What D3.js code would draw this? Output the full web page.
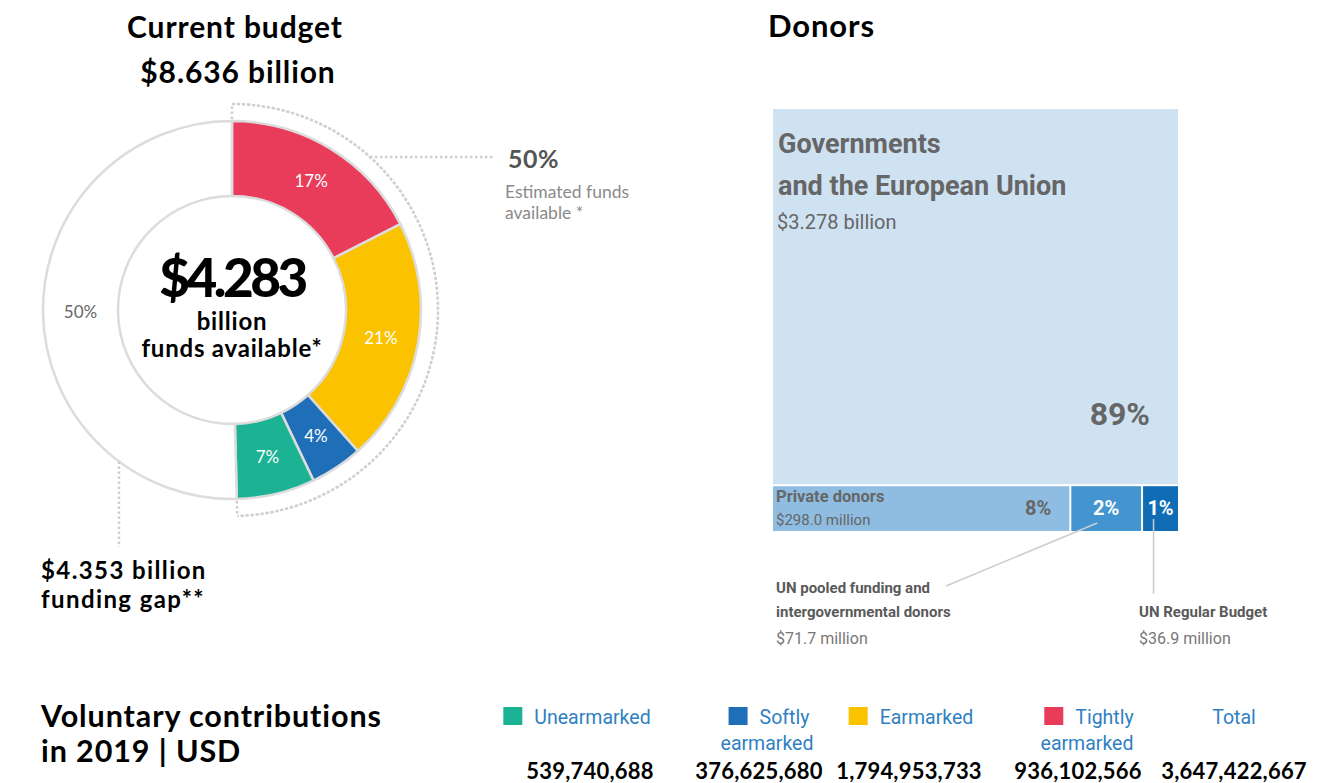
<!DOCTYPE html>
<html>
<head>
<meta charset="utf-8">
<script src="https://cdn.jsdelivr.net/npm/d3@7"></script>
<style>
  body { margin: 0; background: #fff; }
  svg { display: block; }
</style>
</head>
<body>
<script>
// Budget donut, donors treemap and voluntary contributions table

const width = 1335;
const height = 783;

// Current budget (billion USD), clockwise from the top
const budgetKeys = ["Tightly earmarked", "Earmarked", "Softly earmarked", "Unearmarked", "Funding gap"];
const budgetValues = [1.511, 1.805, 0.389, 0.578, 4.353];
const budgetPct = ["17%", "21%", "4%", "7%", "50%"];
const budgetColors = ["#e83c5a", "#fbc200", "#1f6fb8", "#1bb394", "#ffffff"];

// Donors (million USD)
const donorNames = ["Governments and the European Union", "Private donors", "UN pooled funding and intergovernmental donors", "UN Regular Budget"];
const donorValues = [3278, 298.0, 71.7, 36.9];
const donorPct = ["89%", "8%", "2%", "1%"];
const donorAmounts = ["$3.278 billion", "$298.0 million", "$71.7 million", "$36.9 million"];
const donorColors = ["#cfe2f2", "#8fbde2", "#4494d0", "#116cb6"];

// Voluntary contributions in 2019 (USD)
const contribCats = ["Unearmarked", "Softly earmarked", "Earmarked", "Tightly earmarked", "Total"];
const contribValues = [539740688, 376625680, 1794953733, 936102566, 3647422667];
const contribColors = ["#1bb394", "#1f6fb8", "#fbc200", "#e83c5a", null];

const headFont = "Lato, 'Open Sans', sans-serif";
const donorFont = "Roboto, 'Liberation Sans', sans-serif";

const svg = d3.select("body")
    .append("svg")
    .attr("width", width)
    .attr("height", height);

const heading = (x, y, txt, size, anchor, spacing) => svg.append("text")
    .attr("x", x).attr("y", y)
    .attr("text-anchor", anchor || "start")
    .style("font", `bold ${size}px ${headFont}`)
    .style("letter-spacing", `${spacing || 0.9}px`)
    .text(txt);

// ---------- Current budget ----------
heading(235, 38, "Current budget", 30, "middle");
heading(238, 83, "$8.636 billion", 30, "middle");

const cx = 232, cy = 310;
const rOuter = 189, rInner = 114, rBracket = 206;

const donut = svg.append("g").attr("transform", `translate(${cx},${cy})`);

const pie = d3.pie().sort(null).value(d => d);
const arcs = pie(budgetValues);
const arc = d3.arc().innerRadius(rInner).outerRadius(rOuter);

donut.selectAll("path.seg")
    .data(arcs)
    .join("path")
    .attr("class", "seg")
    .attr("d", arc)
    .attr("fill", (d, i) => budgetColors[i])
    .attr("stroke", "#dcdcdc")
    .attr("stroke-width", 2.5);

donut.selectAll("text.pct")
    .data(arcs)
    .join("text")
    .attr("class", "pct")
    .attr("transform", d => `translate(${arc.centroid(d)})`)
    .attr("text-anchor", "middle")
    .attr("dy", "0.35em")
    .style("font", `17px ${headFont}`)
    .attr("fill", (d, i) => i === 4 ? "#666" : "#fff")
    .text((d, i) => budgetPct[i]);

// dotted bracket round the funds available
const available = arcs[3].endAngle;
const dotted = { stroke: "#cfcfcf", "stroke-width": 2.5, "stroke-dasharray": "2.5,2.5", fill: "none" };
const bracket = donut.append("path")
    .attr("d", d3.arc().innerRadius(rBracket).outerRadius(rBracket).startAngle(0).endAngle(available)());
const radial = (a, r0, r1) => `M${r0 * Math.sin(a)},${-r0 * Math.cos(a)}L${r1 * Math.sin(a)},${-r1 * Math.cos(a)}`;
const ticks = donut.append("path")
    .attr("d", radial(0, rOuter + 2, rBracket) + radial(available, rOuter + 2, rBracket));
const leaderY = 157 - cy;
const leaderX0 = Math.sqrt(rBracket * rBracket - leaderY * leaderY);
const leader = donut.append("path").attr("d", `M${leaderX0},${leaderY}H${495 - cx}`);
const gapX = 119 - cx;
const gapLine = donut.append("path")
    .attr("d", `M${gapX},${Math.sqrt(rOuter * rOuter - gapX * gapX)}V${547 - cy}`);
[bracket, ticks, leader, gapLine].forEach(p => Object.entries(dotted).forEach(([k, v]) => p.attr(k, v)));

// centre text
donut.append("text").attr("y", -13).attr("text-anchor", "middle")
    .style("font", `900 53px ${headFont}`).style("letter-spacing", "-3.5px")
    .text("$4.283");
donut.append("text").attr("y", 20).attr("text-anchor", "middle")
    .style("font", `bold 24px ${headFont}`).style("letter-spacing", "0.8px").text("billion");
donut.append("text").attr("y", 47).attr("text-anchor", "middle")
    .style("font", `bold 24px ${headFont}`).style("letter-spacing", "0.8px").text("funds available*");

svg.append("text").attr("x", 508).attr("y", 168)
    .style("font", `bold 25px ${headFont}`).style("letter-spacing", "0.5px")
    .attr("fill", "#555").text(budgetPct[4]);
svg.append("text").attr("x", 505).attr("y", 198)
    .style("font", `17.5px ${headFont}`).attr("fill", "#8a8a8a").text("Estimated funds");
svg.append("text").attr("x", 505).attr("y", 219)
    .style("font", `17.5px ${headFont}`).attr("fill", "#8a8a8a").text("available *");

heading(41, 579, "$4.353 billion", 24, "start", 1.4);
heading(41, 608, "funding gap**", 24, "start", 1.4);

// ---------- Donors ----------
heading(768, 37, "Donors", 31);

const root = d3.hierarchy({
    children: [
        { i: 0 },
        { children: [{ i: 1 }, { i: 2 }, { i: 3 }] }
    ]
}).sum(d => d.i !== undefined ? donorValues[d.i] : 0);

// stack the top level vertically, lay the small donors side by side
d3.treemap()
    .tile((node, x0, y0, x1, y1) =>
        (node.depth === 0 ? d3.treemapSlice : d3.treemapDice)(node, x0, y0, x1, y1))
    .size([405, 422])
    .paddingInner(2)(root);

const tm = svg.append("g").attr("transform", "translate(773,109)");
const leaves = root.leaves();

tm.selectAll("rect")
    .data(leaves)
    .join("rect")
    .attr("x", d => d.x0).attr("y", d => d.y0)
    .attr("width", d => d.x1 - d.x0).attr("height", d => d.y1 - d.y0)
    .attr("fill", d => donorColors[d.data.i]);

const gov = leaves[0];
tm.append("text").attr("x", gov.x0 + 5).attr("y", gov.y0 + 44)
    .style("font", `bold 27px ${donorFont}`).attr("fill", "#666").text("Governments");
tm.append("text").attr("x", gov.x0 + 5).attr("y", gov.y0 + 86)
    .style("font", `bold 27px ${donorFont}`).attr("fill", "#666").text("and the European Union");
tm.append("text").attr("x", gov.x0 + 4).attr("y", gov.y0 + 120)
    .style("font", `20px ${donorFont}`).attr("fill", "#666").text(donorAmounts[0]);
tm.append("text").attr("x", gov.x1 - 28).attr("y", gov.y1 - 59)
    .attr("text-anchor", "end")
    .style("font", `bold 32px ${donorFont}`).attr("fill", "#666").text(donorPct[0]);

const priv = leaves[1];
tm.append("text").attr("x", priv.x0 + 3).attr("y", priv.y1 - 29)
    .style("font", `bold 16.5px ${donorFont}`).attr("fill", "#666").text(donorNames[1]);
tm.append("text").attr("x", priv.x0 + 3).attr("y", priv.y1 - 6)
    .style("font", `15px ${donorFont}`).attr("fill", "#666").text(donorAmounts[1]);
tm.append("text").attr("x", priv.x1 - 18).attr("y", priv.y1 - 16)
    .attr("text-anchor", "end")
    .style("font", `bold 20px ${donorFont}`).attr("fill", "#666").text(donorPct[1]);

leaves.slice(2).forEach(d => {
    tm.append("text").attr("x", (d.x0 + d.x1) / 2).attr("y", d.y1 - 16)
        .attr("text-anchor", "middle")
        .style("font", `bold 20px ${donorFont}`).attr("fill", "#fff").text(donorPct[d.data.i]);
});

// callouts under the treemap
const pooled = leaves[2], unrb = leaves[3];
tm.append("line")
    .attr("x1", (pooled.x0 + pooled.x1) / 2 - 9).attr("y1", pooled.y1 - 8)
    .attr("x2", 946 - 773).attr("y2", 586 - 109)
    .attr("stroke", "#ccc").attr("stroke-width", 1.5);
tm.append("line")
    .attr("x1", (unrb.x0 + unrb.x1) / 2 - 7).attr("y1", unrb.y1 - 12)
    .attr("x2", (unrb.x0 + unrb.x1) / 2 - 7).attr("y2", 594 - 109)
    .attr("stroke", "#ccc").attr("stroke-width", 1.5);

const callout = (x, lines, amount, y0) => {
    lines.forEach((t, k) => svg.append("text").attr("x", x).attr("y", y0 + k * 24)
        .style("font", `bold 15px ${donorFont}`).attr("fill", "#5a5a5a").text(t));
    svg.append("text").attr("x", x).attr("y", y0 + lines.length * 24 + 3)
        .style("font", `16px ${donorFont}`).attr("fill", "#777").text(amount);
};
callout(776, ["UN pooled funding and", "intergovernmental donors"], donorAmounts[2], 593);
callout(1139, [donorNames[3]], donorAmounts[3], 617);

// ---------- Voluntary contributions ----------
heading(41, 727, "Voluntary contributions", 30.5);
heading(41, 762, "in 2019 | USD", 30.5);

const headCentres = [577, 769, 911, 1089, 1234];
const numCentres = [590, 759, 909, 1078, 1234];
const fmt = d3.format(",");
const legendColor = "#2f7fc2";

contribCats.forEach((c, i) => {
    const words = c.split(" ");
    const g = svg.append("g");
    const first = g.append("text").attr("y", 724)
        .style("font", `19.5px ${donorFont}`).attr("fill", legendColor).text(words[0]);
    const w = first.node().getComputedTextLength();
    const sq = contribColors[i] ? 19 + 12 : 0;
    const left = headCentres[i] - (sq + w) / 2;
    first.attr("x", left + sq);
    if (contribColors[i]) {
        g.append("rect").attr("x", left).attr("y", 707).attr("width", 19).attr("height", 18)
            .attr("fill", contribColors[i]);
    }
    if (words.length > 1) {
        g.append("text").attr("x", headCentres[i] - 2).attr("y", 750).attr("text-anchor", "middle")
            .style("font", `19.5px ${donorFont}`).attr("fill", legendColor).text(words[1]);
    }
    svg.append("text").attr("x", numCentres[i]).attr("y", 779).attr("text-anchor", "middle")
        .style("font", `bold 22px ${headFont}`).style("letter-spacing", "0.2px")
        .text(fmt(contribValues[i]));
});
</script>
</body>
</html>
